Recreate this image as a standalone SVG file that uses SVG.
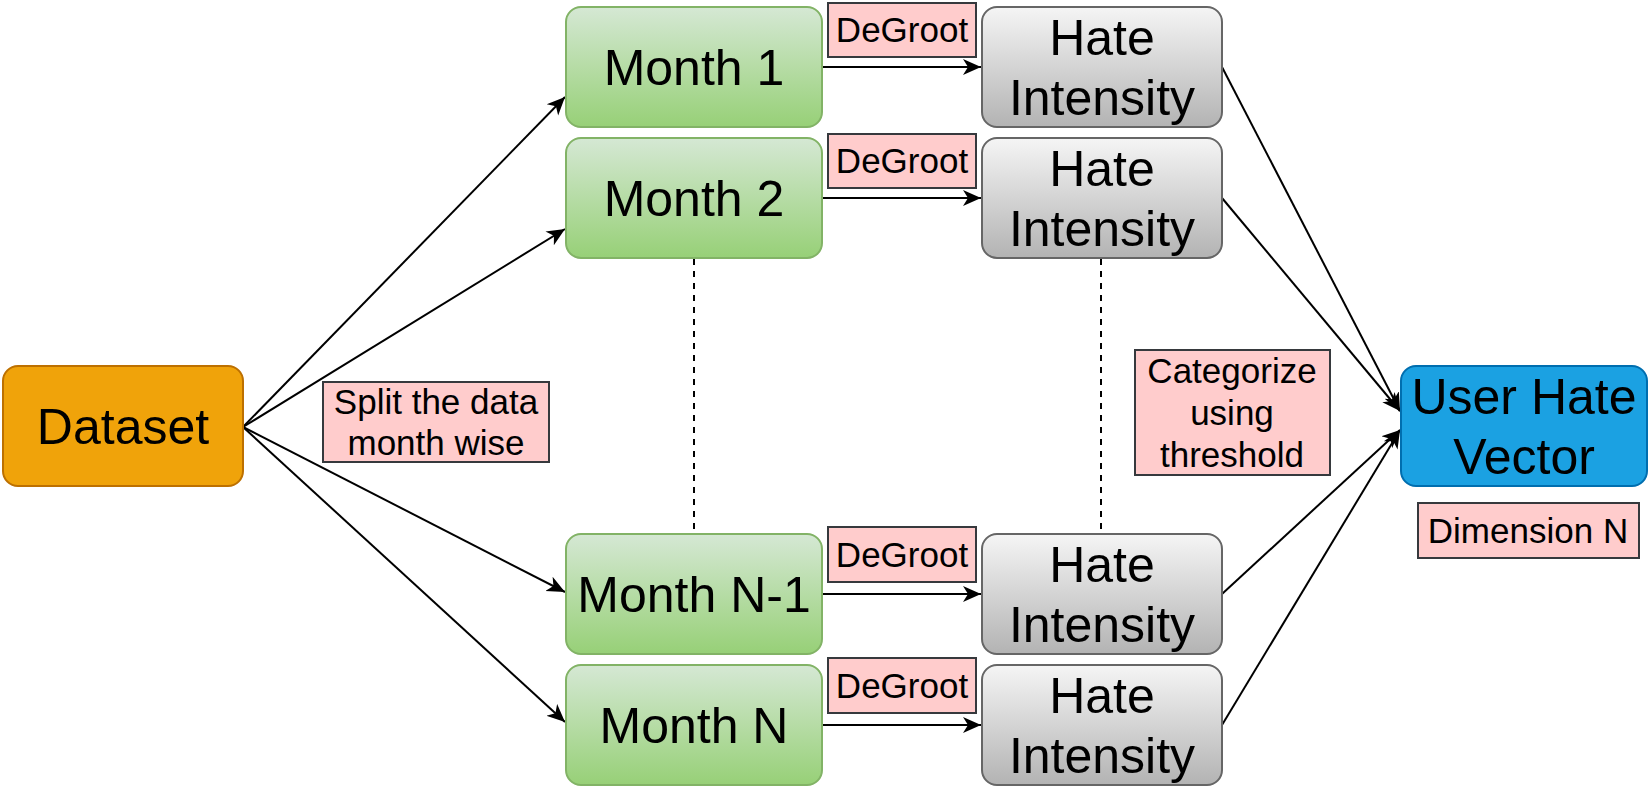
<svg xmlns="http://www.w3.org/2000/svg" width="1650" height="789" viewBox="0 0 1650 789">
<defs>
<linearGradient id="gGreen" x1="0" y1="0" x2="0" y2="1">
<stop offset="0" stop-color="#d5e8d4"/>
<stop offset="1" stop-color="#97d077"/>
</linearGradient>
<linearGradient id="gGray" x1="0" y1="0" x2="0" y2="1">
<stop offset="0" stop-color="#f5f5f5"/>
<stop offset="1" stop-color="#b3b3b3"/>
</linearGradient>
<marker id="arr" markerUnits="userSpaceOnUse" markerWidth="20" markerHeight="18" refX="18" refY="8" orient="auto" viewBox="0 0 20 16">
<path d="M0,0 L18,8 L0,16 L5,8 Z" fill="#000"/>
</marker>
</defs>
<style>
text{font-family:"Liberation Sans",Arial,Helvetica,sans-serif;fill:#000;text-anchor:middle}
.big{font-size:50px}
.lbl{font-size:35px}
.month{fill:url(#gGreen);stroke:#82b366;stroke-width:2}
.hate{fill:url(#gGray);stroke:#666666;stroke-width:2}
.data{fill:#f0a30a;stroke:#BD7000;stroke-width:2}
.uhv{fill:#1ba1e2;stroke:#006EAF;stroke-width:2}
.note{fill:#ffcccc;stroke:#36393d;stroke-width:2}
.conn{fill:none;stroke:#000;stroke-width:2;marker-end:url(#arr)}
.dot{fill:none;stroke:#000;stroke-width:2;stroke-dasharray:6 6}
</style>
<g id="connectors">
<line class="conn" x1="243" y1="427" x2="565" y2="97"/>
<line class="conn" x1="243" y1="427" x2="565" y2="229"/>
<line class="conn" x1="243" y1="427" x2="565" y2="592"/>
<line class="conn" x1="243" y1="427" x2="565" y2="722"/>
<line class="conn" x1="822" y1="67" x2="981" y2="67"/>
<line class="conn" x1="822" y1="198" x2="981" y2="198"/>
<line class="conn" x1="822" y1="594" x2="981" y2="594"/>
<line class="conn" x1="822" y1="725" x2="981" y2="725"/>
<line class="conn" x1="1222" y1="67" x2="1400" y2="411"/>
<line class="conn" x1="1222" y1="198" x2="1400" y2="411"/>
<line class="conn" x1="1222" y1="594" x2="1400" y2="430"/>
<line class="conn" x1="1222" y1="725" x2="1400" y2="430"/>
<line class="dot" x1="694" y1="259" x2="694" y2="533"/>
<line class="dot" x1="1101" y1="259" x2="1101" y2="533"/>
</g>
<g id="dataset">
<rect class="data" x="3" y="366" width="240" height="120" rx="15"/>
<text class="big" x="123" y="444">Dataset</text>
</g>
<g id="month1">
<rect class="month" x="566" y="7" width="256" height="120" rx="15"/>
<text class="big" x="694" y="85">Month 1</text>
</g>
<g id="month2">
<rect class="month" x="566" y="138" width="256" height="120" rx="15"/>
<text class="big" x="694" y="216">Month 2</text>
</g>
<g id="monthN1">
<rect class="month" x="566" y="534" width="256" height="120" rx="15"/>
<text class="big" x="694" y="612">Month N-1</text>
</g>
<g id="monthN">
<rect class="month" x="566" y="665" width="256" height="120" rx="15"/>
<text class="big" x="694" y="743">Month N</text>
</g>
<g id="hate1">
<rect class="hate" x="982" y="7" width="240" height="120" rx="15"/>
<text class="big" x="1102" y="55">Hate</text>
<text class="big" x="1102" y="115">Intensity</text>
</g>
<g id="hate2">
<rect class="hate" x="982" y="138" width="240" height="120" rx="15"/>
<text class="big" x="1102" y="186">Hate</text>
<text class="big" x="1102" y="246">Intensity</text>
</g>
<g id="hateN1">
<rect class="hate" x="982" y="534" width="240" height="120" rx="15"/>
<text class="big" x="1102" y="582">Hate</text>
<text class="big" x="1102" y="642">Intensity</text>
</g>
<g id="hateN">
<rect class="hate" x="982" y="665" width="240" height="120" rx="15"/>
<text class="big" x="1102" y="713">Hate</text>
<text class="big" x="1102" y="773">Intensity</text>
</g>
<g id="userHateVector">
<rect class="uhv" x="1401" y="366" width="246" height="120" rx="15"/>
<text class="big" x="1524" y="414">User Hate</text>
<text class="big" x="1524" y="474">Vector</text>
</g>
<g id="labelDeGroot1">
<rect class="note" x="828" y="3" width="148" height="54"/>
<text class="lbl" x="902" y="42">DeGroot</text>
</g>
<g id="labelDeGroot2">
<rect class="note" x="828" y="134" width="148" height="54"/>
<text class="lbl" x="902" y="173">DeGroot</text>
</g>
<g id="labelDeGrootN1">
<rect class="note" x="828" y="527" width="148" height="55"/>
<text class="lbl" x="902" y="567">DeGroot</text>
</g>
<g id="labelDeGrootN">
<rect class="note" x="828" y="658" width="148" height="55"/>
<text class="lbl" x="902" y="698">DeGroot</text>
</g>
<g id="labelSplit">
<rect class="note" x="323" y="382" width="226" height="80"/>
<text class="lbl" x="436" y="414">Split the data</text>
<text class="lbl" x="436" y="455">month wise</text>
</g>
<g id="labelCategorize">
<rect class="note" x="1135" y="350" width="195" height="125"/>
<text class="lbl" x="1232" y="383">Categorize</text>
<text class="lbl" x="1232" y="425">using</text>
<text class="lbl" x="1232" y="467">threshold</text>
</g>
<g id="labelDimension">
<rect class="note" x="1418" y="503" width="221" height="55"/>
<text class="lbl" x="1528" y="543">Dimension N</text>
</g>
</svg>
